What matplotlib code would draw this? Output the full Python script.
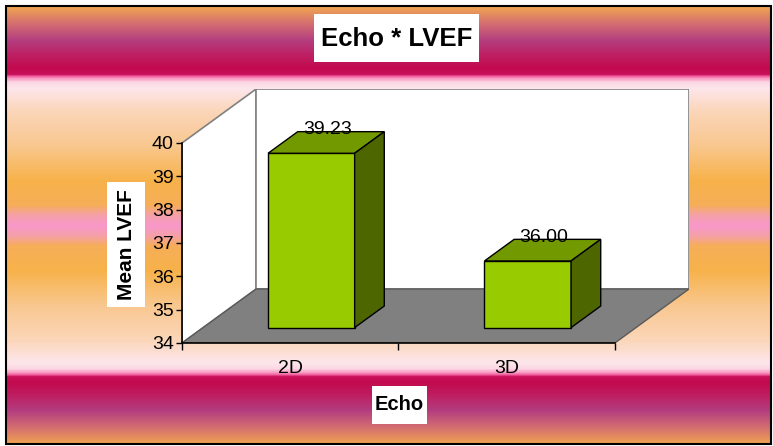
import numpy as np
import matplotlib
matplotlib.use("Agg")
import matplotlib.pyplot as plt
from matplotlib.patches import Polygon, Rectangle

plt.rcParams['font.family'] = ['Liberation Sans', 'DejaVu Sans']

# data
categories = ['2D', '3D']
mean_lvef = [39.23, 36.00]
value_labels = ['39.23', '36.00']
y_ticks = [34, 35, 36, 37, 38, 39, 40]

W, H = 773, 446
fig = plt.figure(figsize=(W / 100, H / 100), dpi=100)
fig.patch.set_facecolor('white')

# background layer in pixel coordinates
bg = fig.add_axes([0, 0, 1, 1], zorder=-5)
bg.set_xlim(0, W)
bg.set_ylim(H, 0)
bg.axis('off')

# banded fill, mirrored around the middle
stops_y = [7, 22, 40, 55, 68, 74, 76, 78, 82, 88, 110, 145, 180, 205, 215, 225.5]
stops_c = ['#EFA352', '#D6716E', '#B33E80', '#BE1F62', '#C30A4E', '#C8105A',
           '#F060A0', '#F898C0', '#FCD8E4', '#FDE6EC', '#FBD6BA', '#F9C890',
           '#F7B24A', '#F6AE58', '#F5A0A8', '#F898CB']
rgb = np.array([matplotlib.colors.to_rgb(c) for c in stops_c])
top, bottom = 7, 444
ys = np.arange(top, bottom + 1)
ym = np.where(ys <= 225.5, ys, top + bottom - ys)
band = np.stack([np.interp(ym, stops_y, rgb[:, k]) for k in range(3)], axis=-1)
bg.imshow(band[:, None, :], extent=(7, 771, bottom, top), aspect='auto',
          origin='upper', interpolation='bilinear')
bg.add_patch(Rectangle((6, 6), 765, 438, fill=False, ec='black', lw=1.5))

# title and axis-title boxes
bg.add_patch(Rectangle((314, 14), 165, 48, fc='white', ec='none'))
bg.text(396.5, 39, 'Echo * LVEF', ha='center', va='center',
        fontsize=18.5, fontweight='bold')
bg.add_patch(Rectangle((107, 182), 38, 125, fc='white', ec='none'))
bg.text(126, 245, 'Mean LVEF', ha='center', va='center', rotation=90,
        fontsize=15, fontweight='bold')
bg.add_patch(Rectangle((372, 386), 55, 38, fc='white', ec='none'))
bg.text(399.5, 405, 'Echo', ha='center', va='center',
        fontsize=14.5, fontweight='bold')

# oblique depth offset in data units
DX = 74 / 216
DY = 1.62
ymin, ymax = 34, 40
xl, xr = -0.5, len(categories) - 0.5

ax = fig.add_axes([182 / W, 1 - 343 / H, (689 - 182) / W, (343 - 89) / H])
ax.set_xlim(xl, xr + DX)
ax.set_ylim(ymin, ymax + DY)
ax.patch.set_visible(False)

wall_edge = '#808080'
# left wall
ax.add_patch(Polygon([(xl, ymin), (xl, ymax), (xl + DX, ymax + DY), (xl + DX, ymin + DY)],
                     closed=True, fc='white', ec=wall_edge, lw=1.2, zorder=1))
# back wall
ax.add_patch(Polygon([(xl + DX, ymin + DY), (xl + DX, ymax + DY), (xr + DX, ymax + DY),
                      (xr + DX, ymin + DY)],
                     closed=True, fc='white', ec=wall_edge, lw=1.2, zorder=1))
# floor
ax.add_patch(Polygon([(xl, ymin), (xr, ymin), (xr + DX, ymin + DY), (xl + DX, ymin + DY)],
                     closed=True, fc='#808080', ec='#5a5a5a', lw=1.0, zorder=2))

# 3D bars
half = 0.2
f0, f1 = 0.285, 0.685
for i, v in enumerate(mean_lvef):
    x0 = i - half + f0 * DX
    x1 = i + half + f0 * DX
    b0 = ymin + f0 * DY
    t0 = v + f0 * DY
    ddx = (f1 - f0) * DX
    ddy = (f1 - f0) * DY
    front = [(x0, b0), (x1, b0), (x1, t0), (x0, t0)]
    top_face = [(x0, t0), (x1, t0), (x1 + ddx, t0 + ddy), (x0 + ddx, t0 + ddy)]
    side = [(x1, b0), (x1 + ddx, b0 + ddy), (x1 + ddx, t0 + ddy), (x1, t0)]
    ax.add_patch(Polygon(front, closed=True, fc='#99CC00', ec='black', lw=1.0, zorder=3))
    ax.add_patch(Polygon(top_face, closed=True, fc='#739900', ec='black', lw=1.0, zorder=3))
    ax.add_patch(Polygon(side, closed=True, fc='#4D6600', ec='black', lw=1.0, zorder=3))
    ax.annotate(value_labels[i], (i + 0.5 * DX, v + f1 * DY), xytext=(0, 1.5),
                textcoords='offset points', ha='center', va='center',
                fontsize=14, zorder=4)

# axes lines and ticks
for s in ['top', 'right']:
    ax.spines[s].set_visible(False)
ax.spines['left'].set_bounds(ymin, ymax)
ax.spines['bottom'].set_bounds(xl, xr)
for s in ['left', 'bottom']:
    ax.spines[s].set_color('black')
    ax.spines[s].set_linewidth(1.2)
    ax.spines[s].set_zorder(5)

ax.set_yticks(y_ticks)
ax.set_yticklabels([str(t) for t in y_ticks])
ax.tick_params(axis='y', direction='out', length=4, width=1, pad=2, labelsize=14)
ax.set_xticks(range(len(categories)))
ax.set_xticklabels(categories)
ax.tick_params(axis='x', which='major', length=0, pad=12, labelsize=14)
ax.set_xticks([xl, 0.5, xr], minor=True)
ax.tick_params(axis='x', which='minor', direction='out', length=5, width=1)

fig.savefig('out.png', dpi=100)
